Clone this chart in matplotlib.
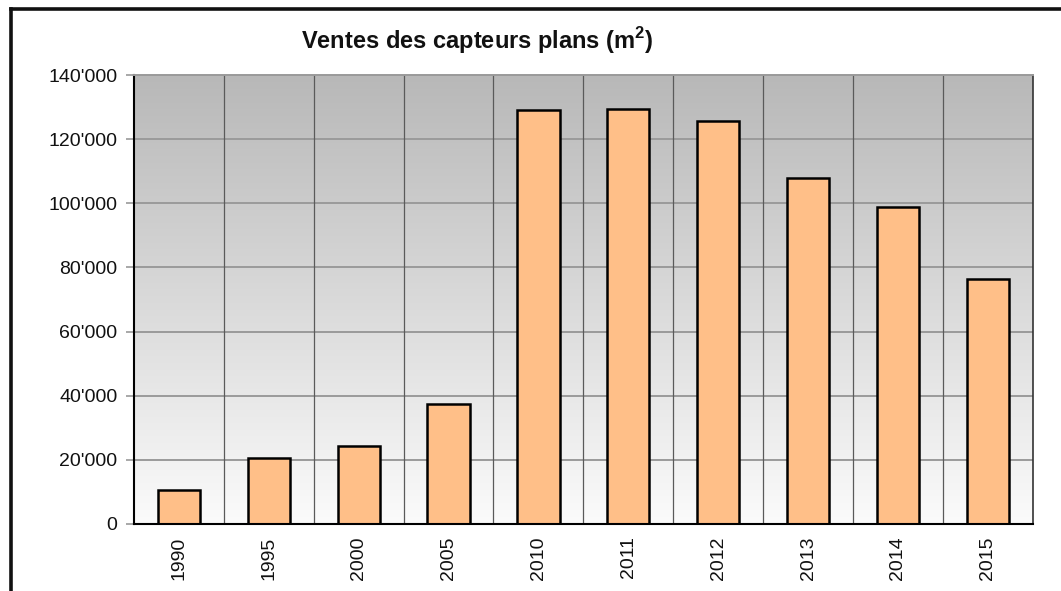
import matplotlib
matplotlib.use("Agg")
import matplotlib.pyplot as plt
import numpy as np
from matplotlib.lines import Line2D
from matplotlib.colors import LinearSegmentedColormap

plt.rcParams['font.family'] = ['Liberation Sans', 'DejaVu Sans']
plt.rcParams['mathtext.fontset'] = 'custom'
plt.rcParams['mathtext.rm'] = 'Liberation Sans'
plt.rcParams['mathtext.bf'] = 'Liberation Sans:bold'

years = ['1990', '1995', '2000', '2005', '2010', '2011', '2012', '2013', '2014', '2015']
sales = [10600, 20700, 24300, 37400, 129100, 129300, 125700, 107900, 98800, 76400]
yticks = [0, 20000, 40000, 60000, 80000, 100000, 120000, 140000]
title = r"Ventes des capteurs plans (m$^{\mathbf{2}}$)"

W, H = 1061, 591
fig = plt.figure(figsize=(W / 100, H / 100), dpi=100)
ax = fig.add_axes([134 / W, 1 - 524 / H, (1032.7 - 134) / W, (524 - 75) / H])

# gradient background
grad = np.linspace(0, 1, 256).reshape(-1, 1)
cmap = LinearSegmentedColormap.from_list('g', ['#fbfbfb', '#b8b8b8'])
ax.imshow(grad, extent=[0, 1, 0, 1], transform=ax.transAxes, cmap=cmap,
          aspect='auto', origin='lower', zorder=0)

x = np.arange(len(years))
ax.bar(x, sales, width=0.47, color='#ffbf88', edgecolor='black', linewidth=1.8, zorder=3)

ax.set_xlim(-0.5, len(years) - 0.5)
ax.set_ylim(0, 140000)
ax.set_yticks(yticks)
ax.set_yticklabels([f"{v:,}".replace(',', "'") for v in yticks])
ax.set_xticks(x)
ax.set_xticklabels(years, rotation=90)

# grid lines
for v in yticks[1:-1]:
    ax.axhline(v, color='#9a9a9a', linewidth=1.4, zorder=1)
for b in np.arange(0.5, len(years) - 0.5, 1):
    ax.axvline(b, color='#5a5a5a', linewidth=0.9, zorder=1)

ax.tick_params(axis='y', length=6, width=1.2, color='#9a9a9a', pad=6, labelsize=14, labelcolor='#111111')
ax.tick_params(axis='x', length=0, pad=9, labelsize=14, labelcolor='#111111')

ax.spines['top'].set_color('#9a9a9a')
ax.spines['top'].set_linewidth(1.4)
ax.spines['left'].set_color('black')
ax.spines['left'].set_linewidth(1.5)
ax.spines['bottom'].set_color('black')
ax.spines['bottom'].set_linewidth(1.5)
ax.spines['right'].set_color('#333333')
ax.spines['right'].set_linewidth(1.2)
for s in ax.spines.values():
    s.set_zorder(4)

fig.text(477 / W, 1 - 41 / H, title, ha='center', va='center', fontsize=17,
         fontweight='bold', color='#111111')

# figure border (left and top)
bx = 10.5 / W
by = 1 - 8.5 / H
fig.add_artist(Line2D([bx, bx], [0, by], transform=fig.transFigure, color='#111111', linewidth=2.6))
fig.add_artist(Line2D([bx, 1], [by, by], transform=fig.transFigure, color='#111111', linewidth=2.6))

fig.savefig('out.png', dpi=100)
